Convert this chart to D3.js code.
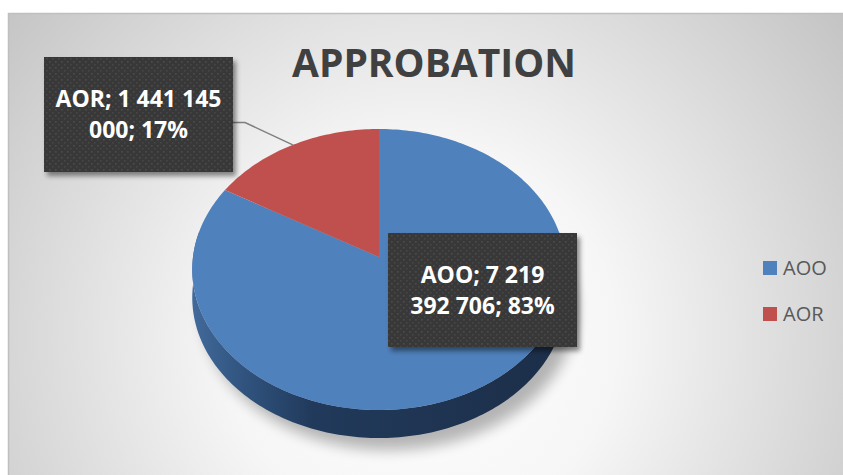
<!DOCTYPE html>
<html>
<head>
<meta charset="utf-8">
<script src="https://cdn.jsdelivr.net/npm/d3@7"></script>
<style>
  html, body { margin: 0; padding: 0; background: #fff; }
  svg { display: block; }
</style>
</head>
<body>
<svg class="chart" width="843" height="475"></svg>
<script>
    var title = "APPROBATION";
    var categories = ["AOO", "AOR"];
    var values = [7219392706, 1441145000];
    var colors = ["#4f81bd", "#c0504d"];

    var width = 843;
    var height = 475;

    // pie geometry (perspective tilt)
    var cx = 379, cy = 257;
    var rx = 186;
    var persp = -0.089;
    var ryFar = 128;
    var ry = ryFar * (1 - persp);
    var depth = 28;

    var svg = d3.select(".chart");
    var defs = svg.append("defs");

    var bg = defs.append("radialGradient").attr("id", "bg")
        .attr("gradientUnits", "userSpaceOnUse")
        .attr("cx", 420).attr("cy", 340).attr("r", 560);
    bg.append("stop").attr("offset", "0").attr("stop-color", "#ffffff");
    bg.append("stop").attr("offset", "0.35").attr("stop-color", "#f6f6f6");
    bg.append("stop").attr("offset", "1").attr("stop-color", "#c0c0c0");

    var side = defs.append("linearGradient").attr("id", "side")
        .attr("gradientUnits", "userSpaceOnUse")
        .attr("x1", cx - rx).attr("x2", cx + rx).attr("y1", 0).attr("y2", 0);
    side.append("stop").attr("offset", "0").attr("stop-color", "#41699a");
    side.append("stop").attr("offset", "0.14").attr("stop-color", "#30537e");
    side.append("stop").attr("offset", "0.32").attr("stop-color", "#213a5b");
    side.append("stop").attr("offset", "1").attr("stop-color", "#1c2e48");

    var dots = defs.append("pattern").attr("id", "dots")
        .attr("patternUnits", "userSpaceOnUse")
        .attr("width", 6).attr("height", 6);
    dots.append("rect").attr("width", 6).attr("height", 6).attr("fill", "#383838");
    dots.append("rect").attr("x", 1).attr("y", 1).attr("width", 1.6).attr("height", 1.6).attr("fill", "#4c4c4c");
    dots.append("rect").attr("x", 4).attr("y", 4).attr("width", 1.6).attr("height", 1.6).attr("fill", "#464646");

    var boxShadow = defs.append("filter").attr("id", "boxShadow")
        .attr("x", "-20%").attr("y", "-20%").attr("width", "140%").attr("height", "140%");
    boxShadow.append("feDropShadow").attr("dx", 3).attr("dy", 4)
        .attr("stdDeviation", 2.5).attr("flood-color", "#000").attr("flood-opacity", 0.45);

    var pieShadow = defs.append("filter").attr("id", "pieShadow")
        .attr("x", "-20%").attr("y", "-20%").attr("width", "140%").attr("height", "140%");
    pieShadow.append("feGaussianBlur").attr("stdDeviation", 7);

    // frame
    svg.append("rect")
        .attr("x", 8.5).attr("y", 13.5)
        .attr("width", width).attr("height", height)
        .attr("fill", "url(#bg)")
        .attr("stroke", "#bfbfbf").attr("stroke-width", 1.5);

    // title
    svg.append("text")
        .attr("x", 434).attr("y", 77)
        .attr("text-anchor", "middle")
        .attr("font-family", "'Open Sans', sans-serif")
        .attr("font-weight", "bold")
        .attr("font-size", 39)
        .attr("fill", "#404040")
        .text(title);

    function proj(a, dy) {
        var v = -Math.cos(a);
        var den = 1 + persp * v;
        return [cx + rx * Math.sin(a) / den, cy + ry * v / den + (dy || 0)];
    }

    function arcPoints(a0, a1, dy) {
        var n = Math.max(2, Math.ceil(Math.abs(a1 - a0) / 0.02));
        return d3.range(n + 1).map(function (i) {
            return proj(a0 + (a1 - a0) * i / n, dy);
        });
    }

    var line = d3.line();

    var pie = d3.pie().sort(null).value(function (d) { return d; });
    var arcs = pie(values);
    var total = d3.sum(values);

    var pieG = svg.append("g");

    // soft shadow under the pie
    pieG.append("path")
        .attr("d", line(arcPoints(0, 2 * Math.PI, depth + 10)) + "Z")
        .attr("transform", "translate(10,2)")
        .attr("fill", "#000")
        .attr("opacity", 0.28)
        .attr("filter", "url(#pieShadow)");

    // side wall (front part only)
    var sideFront = arcs.map(function (d) {
        var a0 = Math.max(d.startAngle, Math.PI * 0.44);
        var a1 = Math.min(d.endAngle, Math.PI * 1.56);
        return a1 > a0 ? [a0, a1, d.index] : null;
    }).filter(Boolean);

    pieG.selectAll("path.side")
        .data(sideFront)
        .enter()
        .append("path")
        .attr("class", "side")
        .attr("d", function (s) {
            var top = arcPoints(s[0], s[1], 0);
            var bottom = arcPoints(s[1], s[0], depth);
            return line(top.concat(bottom)) + "Z";
        })
        .attr("fill", function (s) { return s[2] === 0 ? "url(#side)" : d3.color(colors[s[2]]).darker(1.4); });

    // top faces
    pieG.selectAll("path.slice")
        .data(arcs)
        .enter()
        .append("path")
        .attr("class", "slice")
        .attr("d", function (d) {
            return line([[cx, cy]].concat(arcPoints(d.startAngle, d.endAngle, 0))) + "Z";
        })
        .attr("fill", function (d) { return colors[d.index]; });

    // data labels
    var fmt = d3.formatLocale({ decimal: ",", thousands: " ", grouping: [3], currency: ["", ""] }).format(",d");
    var labelBoxes = [
        { x: 388, y: 233, w: 189, h: 114, wrap: 150, leader: false },
        { x: 44, y: 57, w: 189, h: 115, wrap: 178, leader: true }
    ];
    var labelSize = 23;

    var measure = svg.append("text")
        .attr("font-family", "'Open Sans', sans-serif")
        .attr("font-weight", "bold")
        .attr("font-size", labelSize);

    function wrapText(str, maxW) {
        var words = str.split(" ");
        var lines = [];
        var cur = "";
        words.forEach(function (w) {
            var test = cur ? cur + " " + w : w;
            measure.text(test);
            if (cur && measure.node().getComputedTextLength() > maxW) {
                lines.push(cur);
                cur = w;
            } else {
                cur = test;
            }
        });
        if (cur) lines.push(cur);
        return lines;
    }

    arcs.forEach(function (d, i) {
        var box = labelBoxes[i];
        var pct = Math.round(values[i] / total * 100);
        var str = categories[i] + "; " + fmt(values[i]) + "; " + pct + "%";
        var lines = wrapText(str, box.wrap);

        if (box.leader) {
            var mid = (d.startAngle + d.endAngle) / 2;
            var p = proj(mid, 0);
            var ly = box.y + box.h * 0.57;
            svg.append("path")
                .attr("d", line([[box.x + box.w, ly], [box.x + box.w + 12, ly], p]))
                .attr("fill", "none")
                .attr("stroke", "#7f7f7f")
                .attr("stroke-width", 1.5);
        }

        svg.append("rect")
            .attr("x", box.x).attr("y", box.y)
            .attr("width", box.w).attr("height", box.h)
            .attr("fill", "url(#dots)")
            .attr("filter", "url(#boxShadow)");

        var lh = 31;
        var firstBase = box.y + box.h / 2 - (lines.length - 1) * lh / 2 + 8;
        var t = svg.append("text")
            .attr("text-anchor", "middle")
            .attr("font-family", "'Open Sans', sans-serif")
            .attr("font-weight", "bold")
            .attr("font-size", labelSize)
            .attr("fill", "#ffffff");
        lines.forEach(function (l, k) {
            t.append("tspan")
                .attr("x", box.x + box.w / 2)
                .attr("y", firstBase + k * lh)
                .text(l);
        });
    });
    measure.remove();

    // legend
    var legend = svg.append("g");
    var legendY = d3.scalePoint().domain(categories).range([268, 314]);
    var items = legend.selectAll("g")
        .data(categories)
        .enter()
        .append("g")
        .attr("transform", function (c) { return "translate(763," + legendY(c) + ")"; });
    items.append("rect")
        .attr("x", 0).attr("y", -7)
        .attr("width", 14).attr("height", 14)
        .attr("fill", function (c, i) { return colors[i]; });
    items.append("text")
        .attr("x", 20).attr("y", 7)
        .attr("font-family", "'Open Sans', sans-serif")
        .attr("font-size", 20)
        .attr("fill", "#595959")
        .text(function (c) { return c; });
</script>
</body>
</html>
